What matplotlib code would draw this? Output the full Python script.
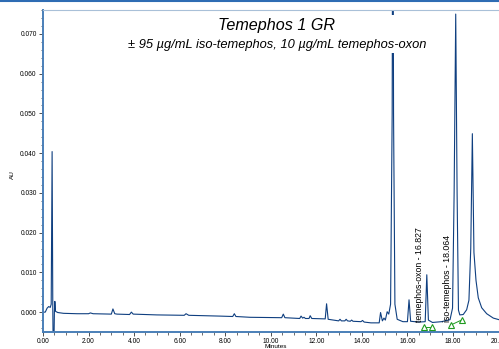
import matplotlib
matplotlib.use("Agg")
import matplotlib.pyplot as plt
from matplotlib.lines import Line2D
from matplotlib.patches import Rectangle
from matplotlib.ticker import MultipleLocator, FormatStrFormatter


# =====================================================
# DATA
# =====================================================

minutes = [
    0.00, 0.10, 0.18, 0.25, 0.32, 0.36, 0.40, 0.43, 0.445, 0.48,
    0.50, 0.52, 0.55, 0.65, 0.90, 1.50, 2.00, 2.08, 2.20, 3.00,
    3.07, 3.15, 3.25, 3.80, 3.88, 3.96, 5.00, 6.20, 6.28, 6.40,
    7.77, 8.33, 8.40, 8.47, 9.09, 10.48, 10.55, 10.62, 11.27, 11.33,
    11.40, 11.46, 11.52, 11.68, 11.73, 11.80, 12.39, 12.45, 12.52, 12.98,
    13.04, 13.10, 13.25, 13.31, 13.37, 13.49, 13.55, 13.61, 13.96, 14.03,
    14.10, 14.40, 14.76, 14.82, 14.90, 14.97, 15.03, 15.11, 15.18, 15.26,
    15.33, 15.36, 15.39, 15.45, 15.55, 15.80, 16.00, 16.07, 16.14, 16.50,
    16.78, 16.85, 16.92, 17.10, 17.50, 17.87, 17.98, 18.05, 18.12, 18.18,
    18.24, 18.30, 18.45, 18.60, 18.70, 18.78, 18.85, 18.92, 19.01, 19.11,
    19.26, 19.48, 19.77, 20.02,
]

au = [
    0.0000, 0.0000, 0.0010, 0.0014, 0.0012, 0.0020, 0.0404, 0.0010, -0.0080, -0.0080,
    0.0000, 0.0027, 0.0002, -0.0001, -0.0003, -0.0004, -0.0004, -0.0002, -0.0004, -0.0005,
    0.0008, -0.0004, -0.0005, -0.0006, 0.0000, -0.0005, -0.0007, -0.0008, -0.0004, -0.0008,
    -0.0010, -0.0011, -0.0004, -0.0011, -0.0013, -0.0014, -0.0005, -0.0014, -0.0016, -0.0010,
    -0.0015, -0.0013, -0.0016, -0.0016, -0.0009, -0.0016, -0.0017, 0.0021, -0.0018, -0.0022,
    -0.0018, -0.0022, -0.0022, -0.0018, -0.0022, -0.0023, -0.0020, -0.0023, -0.0024, -0.0021,
    -0.0025, -0.0027, -0.0027, -0.0001, -0.0022, -0.0015, -0.0020, 0.0001, -0.0005, 0.0020,
    0.0500, 0.1300, 0.0500, 0.0020, -0.0018, -0.0024, -0.0024, 0.0031, -0.0023, -0.0025,
    -0.0024, 0.0094, -0.0020, -0.0026, -0.0024, -0.0019, 0.0010, 0.0300, 0.0750, 0.0300,
    0.0005, -0.0007, -0.0006, 0.0006, 0.0030, 0.0160, 0.0449, 0.0150, 0.0080, 0.0036,
    0.0011, -0.0004, -0.0015, -0.0019,
]

peak_names = ["temephos-oxon", "iso-temephos"]
peak_rt = [16.827, 18.064]

# integration markers (start / end of each peak)
marker_t = [16.73, 17.08, 17.92, 18.41]
marker_au = [-0.0038, -0.0038, -0.0032, -0.0019]


# =====================================================
# FIGURE
# =====================================================

plt.rcParams["font.family"] = ["Liberation Sans", "DejaVu Sans"]

fig = plt.figure(figsize=(4.99, 3.49), dpi=100)
ax = fig.add_axes([43 / 499, 17 / 349, 456 / 499, 322.3 / 349])

ax.plot(minutes, au, color="#0f3f80", linewidth=0.8, zorder=2)

# green integration marks
ax.plot(marker_t[:2], marker_au[:2], color="#1f9a1f", linewidth=0.7, zorder=3)
ax.plot(marker_t[2:], marker_au[2:], color="#1f9a1f", linewidth=0.7, zorder=3)
ax.plot(marker_t, marker_au, linestyle="none", marker="^", markersize=5,
        markerfacecolor="white", markeredgecolor="#1f9a1f",
        markeredgewidth=0.8, zorder=4, clip_on=False)

# peak labels
for name, rt in zip(peak_names, peak_rt):
    ax.text(rt - 0.3, -0.0024, f"{name} - {rt:.3f}", rotation=90,
            ha="center", va="bottom", fontsize=6.3, zorder=5)


# =====================================================
# AXES
# =====================================================

ax.set_xlim(0, 20.02)
ax.set_ylim(-0.005, 0.0761)

ax.xaxis.set_major_locator(MultipleLocator(2))
ax.xaxis.set_minor_locator(MultipleLocator(0.5))
ax.xaxis.set_major_formatter(FormatStrFormatter("%.2f"))
ax.yaxis.set_major_locator(MultipleLocator(0.01))
ax.yaxis.set_minor_locator(MultipleLocator(0.002))
ax.yaxis.set_major_formatter(FormatStrFormatter("%.3f"))

ax.tick_params(which="major", direction="out", length=3, width=0.6,
               color="#333333", labelsize=4.8, pad=1.5)
ax.tick_params(which="minor", direction="out", length=1.8, width=0.5,
               color="#333333")

ax.spines["left"].set_color("#4a7fb8")
ax.spines["left"].set_linewidth(1.4)
ax.spines["bottom"].set_color("#4a7fb8")
ax.spines["bottom"].set_linewidth(1.4)
ax.spines["top"].set_color("#a9c0d8")
ax.spines["top"].set_linewidth(0.8)
ax.spines["right"].set_visible(False)

fig.text(12 / 499, 1 - 175 / 349, "AU", rotation=90, fontsize=4.6,
         ha="center", va="center")
fig.text(276 / 499, 1 - 344 / 349, "Minutes", fontsize=4.6,
         ha="center", va="top")


# =====================================================
# TITLE BOX
# =====================================================

ax.add_patch(Rectangle((118 / 499, 1 - 53 / 349), 318 / 499, 38 / 349,
                       transform=fig.transFigure, facecolor="white",
                       edgecolor="none", zorder=3, clip_on=False))

fig.text(277 / 499, 1 - 25.5 / 349, "Temephos 1 GR", fontsize=11.6,
         style="italic", ha="center", va="center", zorder=6)
fig.text(277 / 499, 1 - 45 / 349,
         "\u00b1 95 \u00b5g/mL iso-temephos, 10 \u00b5g/mL temephos-oxon",
         fontsize=9.3, style="italic", ha="center", va="center", zorder=6)

# blue border at the top of the window
fig.add_artist(Line2D([0, 1], [1 - 1 / 349, 1 - 1 / 349],
                      transform=fig.transFigure, color="#2e6cb3",
                      linewidth=1.5))

fig.savefig("out.png", dpi=100)
